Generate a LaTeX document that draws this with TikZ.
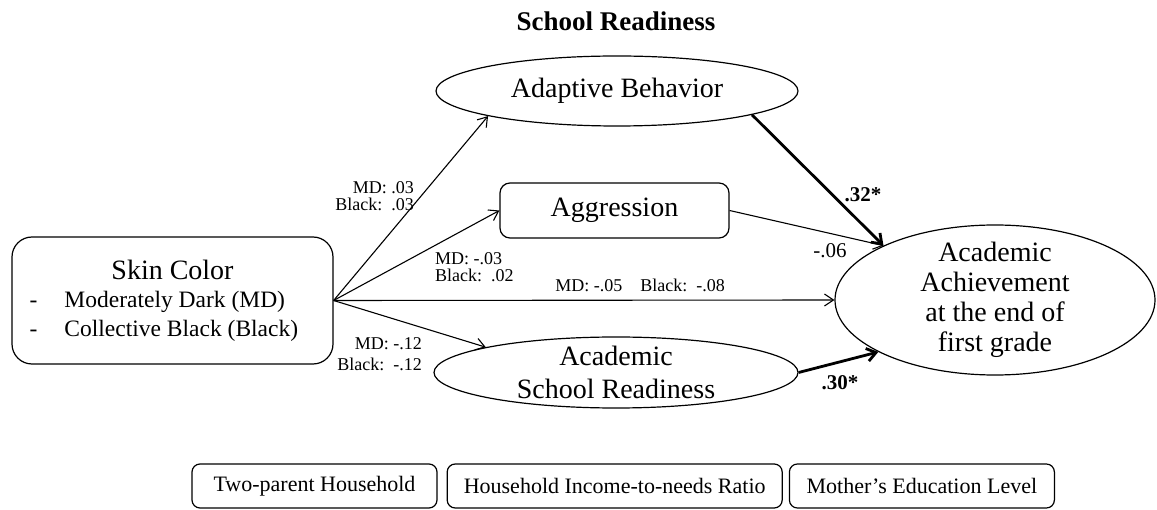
\documentclass[tikz,border=0pt]{standalone}
\usepackage{fontspec}
\setmainfont{Liberation Serif}
\usetikzlibrary{positioning,arrows.meta,shapes.geometric}

\begin{document}
\begin{tikzpicture}[x=1pt, y=-1pt,
  oval/.style={draw, ellipse, line width=1.2pt, inner sep=0pt,
               font=\fontsize{28}{30}\selectfont},
  rbox/.style={draw, rounded corners=10pt, line width=1.2pt, inner sep=0pt,
               font=\fontsize{28}{30}\selectfont},
  cbox/.style={draw, rounded corners=8pt, line width=1.2pt, inner sep=0pt,
               minimum height=44pt, font=\fontsize{22}{24}\selectfont},
  coef/.style={inner sep=0pt, font=\fontsize{18}{16.5}\selectfont},
  sig/.style={inner sep=0pt, font=\fontsize{21}{24}\selectfont\bfseries},
  ar/.style={line width=1.1pt, -{Straight Barb[length=9pt,width=12pt]}},
  sar/.style={line width=2.8pt, -{Straight Barb[length=9pt,width=13pt]}}
]
\useasboundingbox (0,0) rectangle (1157,510);

\node[font=\fontsize{27}{30}\selectfont\bfseries] (title) at (616,21) {School Readiness};

% mediators
\node[oval, minimum width=362pt, minimum height=70pt] (adapt) at (617,91) {Adaptive Behavior};
\node[rbox, minimum width=229pt, minimum height=55pt] (aggr) at (614.5,210.5) {Aggression};
\node[oval, minimum width=364pt, minimum height=71pt,
      label={[align=center, font=\fontsize{28}{33}\selectfont]center:Academic\\School Readiness}]
      (school) at (616,372.5) {};

% outcome
\node[oval, minimum width=320pt, minimum height=150pt,
      label={[align=center, font=\fontsize{28}{30}\selectfont]center:Academic\\Achievement\\at the end of\\first grade}]
      (achieve) at (995,300) {};

% predictor
\node[rbox, rounded corners=20pt, minimum width=321pt, minimum height=127pt, align=left,
      font=\fontsize{23.5}{28.5}\selectfont] (skin) at (172.5,300.5)
  {\makebox[300pt]{\fontsize{28}{28.5}\selectfont Skin Color}\\
   \hspace*{7pt}\makebox[35pt][l]{-}Moderately Dark (MD)\\
   \hspace*{7pt}\makebox[35pt][l]{-}Collective Black (Black)};

% covariates
\node[cbox, minimum width=245pt] (twopar) at (314.5,486) {Two-parent Household};
\node[cbox, minimum width=335pt, right=9pt of twopar] (income) {Household Income-to-needs Ratio};
\node[cbox, minimum width=265pt, right=6pt of income] (mothed) {Mother’s Education Level};

% paths
\draw[ar] (skin.east) -- (adapt.191);
\draw[ar] (skin.east) -- (aggr.west);
\draw[ar] (skin.east) -- (achieve.west);
\draw[ar] (skin.east) -- (school.169);
\draw[sar] (adapt.-10) -- (achieve.154);
\draw[ar] (aggr.east) -- (achieve.154);
\draw[sar] (school.east) -- (achieve.204);

% coefficients
\node[coef, anchor=east, align=right] (cadapt) at (414,196) {MD: .03\\Black:~~.03};
\node[coef, anchor=west, align=left] (caggr) at (435,267) {MD: -.03\\Black:~~.02};
\node[coef] (cdirect) at (640,285.5) {MD: -.05\quad Black:~~-.08};
\node[coef, anchor=east, align=right, font=\fontsize{18}{21}\selectfont] (cschool) at (422,354) {MD: -.12\\Black:~~-.12};
\node[sig] (badapt) at (863,195) {.32*};
\node[sig, font=\fontsize{21}{24}\selectfont] (baggr) at (830,251) {-.06};
\node[sig] (bschool) at (840,383) {.30*};
\end{tikzpicture}
\end{document}
